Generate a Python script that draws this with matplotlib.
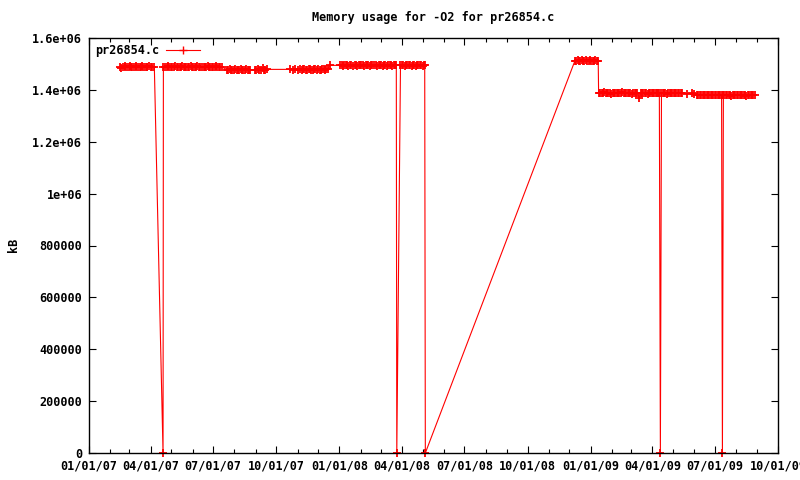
import matplotlib
matplotlib.use("Agg")
import matplotlib.pyplot as plt
import matplotlib.dates as mdates
import matplotlib.ticker as ticker
import numpy as np
import pandas as pd

# days since 01/01/07, memory in kB, one pair of lists per run of samples
days_a = [45, 47, 50, 52, 53, 55, 58, 60, 61, 63, 66, 68, 69, 71, 74, 76, 77,
          79, 82, 84, 85, 87, 90, 92, 95.2, 107.9]
kb_a = [1490000, 1486000, 1489000, 1491000, 1487000, 1490000, 1488000, 1492000,
        1489000, 1487000, 1490000, 1491000, 1488000, 1489000, 1487000, 1490000,
        1492000, 1488000, 1489000, 1490000, 1487000, 1491000, 1489000, 1488000,
        1490000, 0]

days_b = [108.4, 111, 113, 115, 117, 119, 121, 124, 126, 128, 130, 132, 134, 136,
          138, 140, 142, 144, 146, 148, 150, 152, 154, 156, 158, 160, 162, 165,
          167, 169, 171, 173, 175, 177, 179, 181, 183, 185, 187, 189, 191, 194]
kb_b = [1489000, 1490000, 1488000, 1491000, 1489000, 1490000, 1487000, 1489000,
        1491000, 1490000, 1488000, 1489000, 1490000, 1492000, 1488000, 1489000,
        1490000, 1487000, 1489000, 1491000, 1490000, 1488000, 1489000, 1490000,
        1491000, 1488000, 1489000, 1490000, 1487000, 1489000, 1490000, 1491000,
        1488000, 1489000, 1490000, 1488000, 1489000, 1491000, 1490000, 1488000,
        1489000, 1488000]

days_c = [201, 203, 205, 207, 209, 211, 213, 215, 217, 219, 221, 223, 225, 227,
          229, 231, 233, 235, 242, 244, 246, 248, 250, 253, 255, 257, 259]
kb_c = [1478000, 1477000, 1479000, 1478000, 1476000, 1478000, 1479000, 1477000,
        1478000, 1476000, 1479000, 1478000, 1477000, 1478000, 1479000, 1477000,
        1478000, 1477000, 1478000, 1477000, 1479000, 1478000, 1477000, 1486000,
        1478000, 1477000, 1479000]

days_e = [293, 297, 300, 304, 307, 310, 312, 314, 316, 318, 320, 322, 324, 326,
          328, 330, 332, 334, 336, 338, 340, 342, 344, 346, 348, 351]
kb_e = [1479000, 1478000, 1480000, 1477000, 1479000, 1478000, 1480000, 1479000,
        1477000, 1478000, 1480000, 1479000, 1478000, 1477000, 1479000, 1480000,
        1478000, 1479000, 1477000, 1478000, 1480000, 1479000, 1478000, 1479000,
        1481000, 1495000]

days_f = [366, 368, 370, 372, 374, 376, 378, 380, 382, 384, 387, 389, 391, 393,
          395, 397, 399, 401, 403, 405, 407, 409, 411, 413, 415, 418, 420, 422,
          424, 426, 428, 430, 432, 434, 436, 438, 440, 442, 444, 446, 447.8, 448.5]
kb_f = [1494000, 1495000, 1493000, 1494000, 1496000, 1494000, 1493000, 1495000,
        1494000, 1493000, 1495000, 1494000, 1493000, 1495000, 1494000, 1496000,
        1494000, 1493000, 1494000, 1495000, 1494000, 1493000, 1495000, 1494000,
        1494000, 1495000, 1493000, 1494000, 1496000, 1494000, 1493000, 1495000,
        1494000, 1493000, 1494000, 1495000, 1494000, 1493000, 1495000, 1494000,
        1494000, 0]

days_g = [453.9, 456, 458, 460, 462, 464, 466, 468, 470, 472, 474, 476, 478, 480,
          482, 484, 486, 488, 489.2, 490.1]
kb_g = [1494000, 1495000, 1494000, 1493000, 1495000, 1494000, 1496000, 1494000,
        1493000, 1495000, 1494000, 1493000, 1495000, 1494000, 1494000, 1495000,
        1493000, 1494000, 1494000, 0]

days_h = [708.2, 710, 712, 714, 716, 718, 720, 722, 724, 726, 728, 730, 732, 734,
          736, 738, 740, 742.0]
kb_h = [1513000, 1512000, 1514000, 1513000, 1511000, 1515000, 1513000, 1512000,
        1514000, 1513000, 1512000, 1514000, 1513000, 1511000, 1513000, 1514000,
        1512000, 1513000]

days_i = [742.6, 745, 747, 749, 751, 753, 755, 757, 759, 761, 763, 765, 767, 769,
          771, 773, 775, 777, 779, 781, 783, 785, 787, 789, 791, 793, 795, 797,
          799, 802, 804, 806, 808, 810, 812, 814, 816, 818, 820, 822, 824, 826,
          828, 829.5, 831.1, 832.6]
kb_i = [1388000, 1389000, 1387000, 1388000, 1390000, 1388000, 1387000, 1389000,
        1388000, 1386000, 1388000, 1389000, 1387000, 1388000, 1389000, 1387000,
        1388000, 1390000, 1388000, 1387000, 1388000, 1389000, 1387000, 1388000,
        1386000, 1388000, 1389000, 1387000, 1388000, 1368000, 1387000, 1388000,
        1389000, 1387000, 1388000, 1386000, 1388000, 1389000, 1387000, 1388000,
        1387000, 1388000, 1389000, 1388000, 1388000, 0]

days_k = [834.2, 836, 838, 840, 842, 844, 846, 848, 850, 852, 854, 856, 858, 860,
          862, 864, 871, 878, 882]
kb_k = [1388000, 1387000, 1389000, 1388000, 1386000, 1388000, 1389000, 1387000,
        1388000, 1389000, 1387000, 1388000, 1387000, 1389000, 1388000, 1387000,
        1386000, 1387000, 1385000]

days_l = [886, 888, 890, 892, 894, 896, 898, 900, 902, 904, 906, 908, 910, 912,
          914, 916, 918, 920, 921.8, 923.0]
kb_l = [1382000, 1381000, 1380000, 1382000, 1381000, 1379000, 1381000, 1382000,
        1380000, 1381000, 1380000, 1382000, 1381000, 1380000, 1381000, 1379000,
        1381000, 1380000, 1380000, 0]

days_m = [924.4, 926, 928, 930, 932, 934, 936, 938, 940, 942, 944, 946, 948, 950,
          952, 954, 956, 958, 960, 962, 964, 966, 968, 970]
kb_m = [1380000, 1381000, 1379000, 1380000, 1381000, 1380000, 1378000, 1380000,
        1381000, 1379000, 1380000, 1381000, 1380000, 1379000, 1380000, 1381000,
        1380000, 1378000, 1380000, 1381000, 1379000, 1380000, 1380000, 1381000]

y_ticks = [0, 200000, 400000, 600000, 800000, 1000000, 1200000, 1400000, 1600000]
y_labels = ["0", "200000", "400000", "600000", "800000", "1e+06", "1.2e+06",
            "1.4e+06", "1.6e+06"]

days = np.concatenate([days_a, days_b, days_c, days_e, days_f, days_g, days_h,
                       days_i, days_k, days_l, days_m])
mem_kb = np.concatenate([kb_a, kb_b, kb_c, kb_e, kb_f, kb_g, kb_h,
                         kb_i, kb_k, kb_l, kb_m])
dates = pd.Timestamp("2007-01-01") + pd.to_timedelta(days, unit="D")

plt.rcParams["font.family"] = ["DejaVu Sans Mono"]
plt.rcParams["font.weight"] = "bold"
plt.rcParams["font.size"] = 8.5

fig = plt.figure(figsize=(8, 4.8), dpi=100)
ax = fig.add_axes([89 / 800, 27 / 480, 689 / 800, 415 / 480])

ax.plot(dates, mem_kb, color="#ff0000", lw=0.8, marker="+", ms=5.2, mew=1.3,
        clip_on=False, label="pr26854.c", zorder=2)

ax.set_xlim(pd.Timestamp("2007-01-01"), pd.Timestamp("2009-10-01"))
ax.set_ylim(0, 1600000)
ax.xaxis.set_major_locator(mdates.MonthLocator(bymonth=[1, 4, 7, 10]))
ax.xaxis.set_minor_locator(mdates.MonthLocator())
ax.xaxis.set_major_formatter(mdates.DateFormatter("%m/%d/%y"))
ax.yaxis.set_major_locator(ticker.FixedLocator(y_ticks))
ax.yaxis.set_major_formatter(ticker.FixedFormatter(y_labels))

ax.tick_params(which="both", direction="in", top=True, right=True,
               width=0.8, color="black")
ax.tick_params(which="major", length=5, pad=5)
ax.tick_params(which="minor", length=3)
for s in ax.spines.values():
    s.set_linewidth(1.0)
    s.set_zorder(5)

leg = ax.legend(loc="upper left", frameon=False, markerfirst=False,
                handlelength=2.9, handletextpad=0.6, borderpad=0.2,
                borderaxespad=0.3)
for h in leg.legend_handles:
    h.set_markeredgewidth(1.0)
    h.set_markersize(6)

fig.text(433.5 / 800, 1 - 18 / 480, "Memory usage for -O2 for pr26854.c",
         ha="center", va="center")
fig.text(14 / 800, 1 - 245 / 480, "kB", rotation=90, ha="center", va="center")

fig.savefig("out.png", dpi=100)
